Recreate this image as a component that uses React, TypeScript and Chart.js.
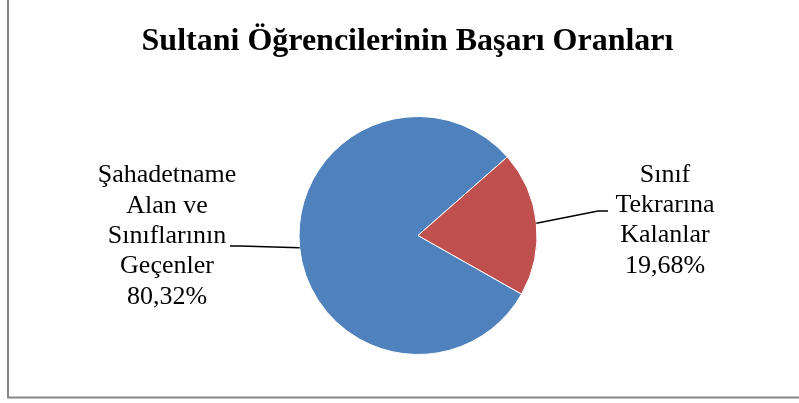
import React, { useEffect, useRef } from "react";
import { Chart, registerables } from "chart.js";

Chart.register(...registerables);

const title = "Sultani Öğrencilerinin Başarı Oranları";
const categories = ["Şahadetname Alan ve Sınıflarının Geçenler", "Sınıf Tekrarına Kalanlar"];
const values = [80.32, 19.68];
const labelLines = [
  ["Şahadetname", "Alan ve", "Sınıflarının", "Geçenler", "80,32%"],
  ["Sınıf", "Tekrarına", "Kalanlar", "19,68%"],
];
const colors = ["#4F81BD", "#C0504D"];

const decorPlugin = {
  id: "decor",
  afterDraw(chart: any) {
    const ctx = chart.ctx as CanvasRenderingContext2D;
    ctx.save();
    // frame (left and bottom visible)
    ctx.strokeStyle = "#878787";
    ctx.lineWidth = 2;
    ctx.beginPath();
    ctx.moveTo(8, -5);
    ctx.lineTo(8, 397.5);
    ctx.lineTo(805, 397.5);
    ctx.stroke();

    // title
    ctx.fillStyle = "#000";
    ctx.font = "bold 32px 'Liberation Serif', 'Times New Roman', serif";
    ctx.textAlign = "center";
    ctx.textBaseline = "alphabetic";
    ctx.fillText(title, 407.5, 50);

    // labels with leader lines
    const meta = chart.getDatasetMeta(0);
    const anchors = [
      { lx: 230, ly: 246, tx: 167, ty: 175.5, side: -1 },
      { lx: 608, ly: 211, tx: 665, ty: 175, side: 1 },
    ];
    ctx.font = "26px 'Liberation Serif', 'Times New Roman', serif";
    ctx.textBaseline = "middle";
    meta.data.forEach((arc: any, i: number) => {
      const p = arc.getProps(["x", "y", "startAngle", "endAngle", "outerRadius"], true);
      const mid = (p.startAngle + p.endAngle) / 2;
      const sx = p.x + Math.cos(mid) * p.outerRadius;
      const sy = p.y + Math.sin(mid) * p.outerRadius;
      const a = anchors[i];
      ctx.strokeStyle = "#000";
      ctx.lineWidth = 1.5;
      ctx.beginPath();
      ctx.moveTo(sx, sy);
      ctx.lineTo(a.lx - a.side * 10, a.ly);
      ctx.lineTo(a.lx, a.ly);
      ctx.stroke();
      labelLines[i].forEach((t, j) => {
        ctx.fillText(t, a.tx, a.ty + j * 30.3);
      });
    });
    ctx.restore();
  },
};

export default function App() {
  const ref = useRef<HTMLCanvasElement>(null);
  useEffect(() => {
    document.body.style.margin = "0";
    const chart = new Chart(ref.current!, {
      type: "pie",
      data: {
        labels: categories,
        datasets: [
          {
            data: values,
            backgroundColor: colors,
            borderColor: "#ffffff",
            borderWidth: 1,
          },
        ],
      },
      options: {
        responsive: false,
        animation: false,
        rotation: 119.5,
        layout: { padding: { left: 37, right: 0, top: 116, bottom: 48 } },
        plugins: {
          legend: { display: false },
          title: { display: false },
          tooltip: { enabled: false },
        },
      },
      plugins: [decorPlugin],
    });
    return () => chart.destroy();
  }, []);
  return (
    <div style={{ width: 799, height: 403, background: "#fff" }}>
      <canvas ref={ref} width={799} height={403} style={{ display: "block" }} />
    </div>
  );
}
